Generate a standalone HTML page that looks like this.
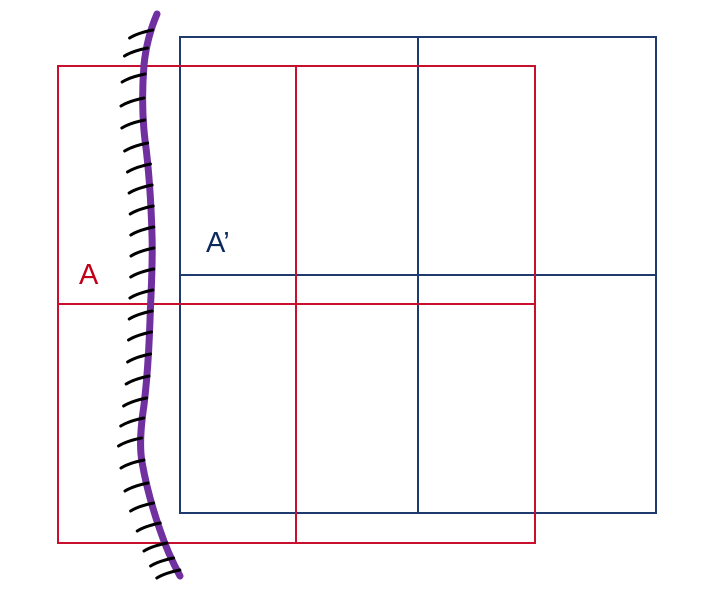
<!DOCTYPE html>
<html><head><meta charset="utf-8"><style>
html,body{margin:0;padding:0;background:#fff;width:704px;height:595px;overflow:hidden}
svg{display:block}
text{font-family:"Liberation Sans","DejaVu Sans",sans-serif}
</style></head><body>
<svg width="704" height="595" viewBox="0 0 704 595">
<g stroke="#1f3a6e" stroke-width="2" fill="none">
<rect x="180" y="37" width="476" height="476"/>
<line x1="418" y1="37" x2="418" y2="513"/>
<line x1="180" y1="275" x2="656" y2="275"/>
</g>
<g stroke="#c8102e" stroke-width="2" fill="none">
<rect x="58" y="66" width="477" height="477"/>
<line x1="296" y1="66" x2="296" y2="543"/>
<line x1="58" y1="304" x2="535" y2="304"/>
</g>
<text x="79" y="284" font-size="29" fill="#c00018">A</text>
<text x="206" y="252" font-size="29" fill="#0d2a5c">A’</text>
<path d="M157,14 C151,28 146,45 144,65 C142,90 142,115 145,140 C149,170 151,200 152,235 C153,265 151,290 150,320 C149,350 147,380 144,405 C141,425 139,445 142,462 C146,485 153,510 160,530 C166,548 173,563 180,576" stroke="#7030a0" stroke-width="7" fill="none" stroke-linecap="round"/>
<g id="hatches" stroke="#000" stroke-width="3" fill="none" stroke-linecap="round"></g>
</svg>
<script>
var hatchYs=[32,50,76,100,122,145,166,187,208,229,250,271,292,313,334,356,378,400,420,440,462,485,505,525,545,560,572];
var pts=[[14,157],[45,146],[65,144],[90,142],[115,142],[140,145],[170,149],[200,151],[235,152],[265,152],[290,151],[320,150],[350,149],[380,147],[405,144],[425,141],[445,139],[462,142],[485,146],[510,153],[530,160],[548,166],[563,173],[576,180]];
function lineX(y){for(var i=1;i<pts.length;i++){if(y<=pts[i][0]){var a=pts[i-1],b=pts[i],t=(y-a[0])/(b[0]-a[0]);return a[1]+t*(b[1]-a[1]);}}return pts[pts.length-1][1];}
var g=document.getElementById('hatches');
hatchYs.forEach(function(y,i){
var x=lineX(y);
var p=document.createElementNS('http://www.w3.org/2000/svg','path');
p.setAttribute('d','M'+(x-21)+','+(y+6)+' Q'+(x-13)+','+(y+1)+' '+(x+2)+','+(y-2));


g.appendChild(p);
});
</script>
</body></html>
